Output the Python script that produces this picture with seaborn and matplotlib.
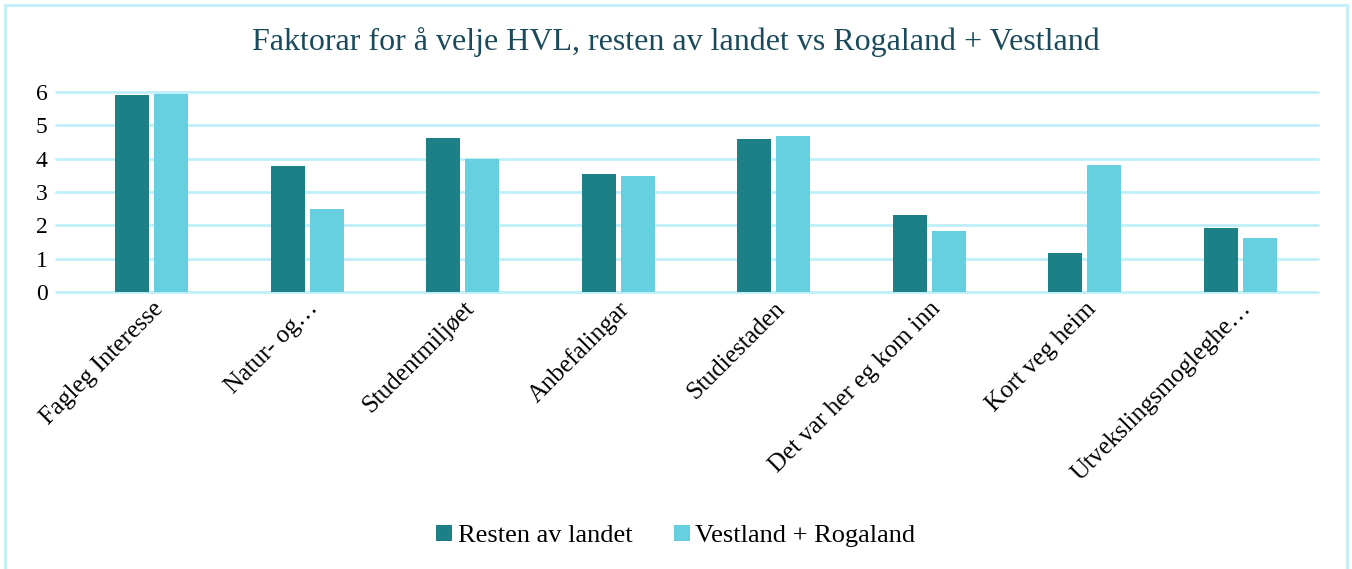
import pandas as pd
import matplotlib.pyplot as plt
import seaborn as sns
from matplotlib.patches import Rectangle

categories = ['Fagleg Interesse', 'Natur- og…', 'Studentmiljøet', 'Anbefalingar',
              'Studiestaden', 'Det var her eg kom inn', 'Kort veg heim', 'Utvekslingsmogleghe…']
resten = [5.92, 3.77, 4.62, 3.55, 4.60, 2.32, 1.17, 1.93]
vestland = [5.94, 2.49, 4.00, 3.49, 4.68, 1.84, 3.81, 1.63]
series = ['Resten av landet', 'Vestland + Rogaland']
colors = ['#1C8086', '#66CFE0']

df = pd.DataFrame({'kategori': categories * 2,
                   'verdi': resten + vestland,
                   'gruppe': [series[0]] * 8 + [series[1]] * 8})

sns.set_theme(style='white')
plt.rcParams['font.family'] = ['Liberation Serif', 'DejaVu Serif']
plt.rcParams['text.color'] = 'black'
plt.rcParams['xtick.color'] = 'black'
plt.rcParams['ytick.color'] = 'black'

fig = plt.figure(figsize=(13.52, 5.69), dpi=100)
ax = fig.add_axes([56 / 1352, 1 - 292 / 569, (1318 - 56) / 1352, 200 / 569])

sns.barplot(data=df, x='kategori', y='verdi', hue='gruppe', palette=colors,
            saturation=1, width=0.5, gap=0.13, linewidth=0,
            ax=ax, legend=True, zorder=3)

# gridlines like Excel
for y in range(0, 7):
    ax.axhline(y, color='#BFEFF8', lw=2, zorder=1, clip_on=False)

ax.set_ylim(0, 6)
ax.set_xlim(-0.616, 7.5)
ax.set_yticks(range(0, 7))
ax.set_xlabel('')
ax.set_ylabel('')
for s in ax.spines.values():
    s.set_visible(False)
ax.tick_params(axis='y', length=0, labelsize=17, pad=6)
ax.tick_params(axis='x', length=0, labelsize=18, pad=4)
plt.setp(ax.get_xticklabels(), rotation=45, ha='right', rotation_mode='anchor')

fig.suptitle('Faktorar for å velje HVL, resten av landet vs Rogaland + Vestland',
             y=1 - 42 / 569, va='center', fontsize=23, color='#1B4B5A')

ax.legend(loc='center', bbox_to_anchor=(0.5, 1 - 536 / 569), bbox_transform=fig.transFigure,
          ncol=2, frameon=False, fontsize=19, handlelength=0.6, handleheight=0.6,
          handletextpad=0.2, columnspacing=1.6)

fig.patches.append(Rectangle((5 / 1352, -0.01), 1342 / 1352, 1 - 5 / 569 + 0.01,
                             transform=fig.transFigure, fill=False,
                             edgecolor='#BFEFF8', lw=2))

fig.savefig('out.png', dpi=100)
